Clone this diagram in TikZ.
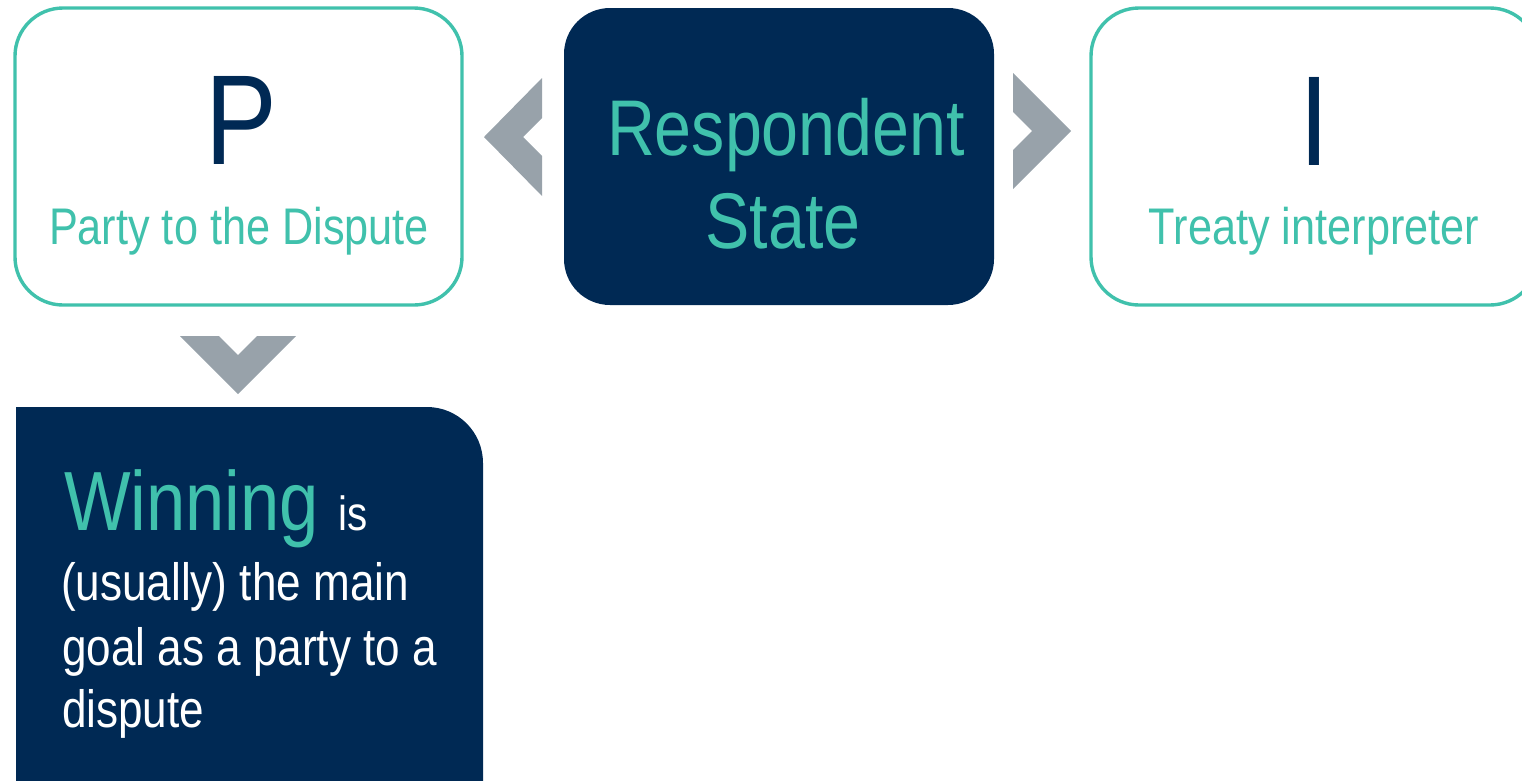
\documentclass[tikz,border=0pt]{standalone}
\usepackage{fontspec}
\setmainfont{Liberation Sans}[FakeStretch=0.84]
\definecolor{navyc}{RGB}{0,41,84}
\definecolor{tealc}{RGB}{64,193,172}
\definecolor{chevc}{RGB}{152,162,170}
\newcommand{\fsz}[1]{\fontsize{#1}{#1}\selectfont}
\begin{document}
\begin{tikzpicture}[x=1pt,y=-1pt,
  outlinebox/.style={draw=tealc, line width=3.4pt, fill=white, rounded corners=48pt,
    minimum width=447pt, minimum height=297pt, inner sep=0pt},
  darkbox/.style={fill=navyc, rounded corners=46pt,
    minimum width=430pt, minimum height=297pt, inner sep=0pt},
  chevron/.style={fill=chevc},
  txt/.style={inner sep=0pt, outer sep=0pt}]
\useasboundingbox (0,0) rectangle (1522,780);
\clip (0,0) rectangle (1522,780);
% boxes
\node[outlinebox] (P) at (238.5,156.5) {};
\node[darkbox] (R) at (779,156.5) {};
\node[outlinebox] (I) at (1314.5,156.5) {};
\fill[navyc] (16,790) -- (16,407) -- (427,407) arc[start angle=-90,end angle=0,radius=56] -- (483,790) -- cycle;
\coordinate (W) at (16,407);
% chevrons
\fill[chevron] (484,137) -- (542,78) -- (542,118) -- (523,137) -- (542,156) -- (542,196) -- cycle;
\fill[chevron] (1071,131) -- (1013,73) -- (1013,112) -- (1032,131) -- (1013,150) -- (1013,189) -- cycle;
\fill[chevron] (180,336) -- (219,336) -- (238,355) -- (257,336) -- (296,336) -- (238,394) -- cycle;
% texts
\node[txt, anchor=base, text=navyc, font=\fsz{128}] (Pl) at (241,164.3) {P};
\node[txt, anchor=base, text=tealc, font=\fsz{51.5}] (Pt) at (239,244.3) {Party to the Dispute};
\node[txt, anchor=base, text=tealc, font=\fsz{79}] (R1) at (786,155) {Respondent};
\node[txt, anchor=base, text=tealc, font=\fsz{79}] (R2) at (783,248) {State};
\node[txt, anchor=base, text=navyc, font=\fsz{128}] (Il) at (1314,165) {I};
\node[txt, anchor=base, text=tealc, font=\fsz{51.5}] (It) at (1314,244) {Treaty interpreter};
\node[txt, anchor=base west, text=white] (W1) at (64,530) {{\fsz{84}\color{tealc}Winning }{\fsz{48}is}};
\node[txt, anchor=base west, text=white, font=\fsz{52.5}] (W2) at (61,600) {(usually) the main};
\node[txt, anchor=base west, text=white, font=\fsz{52.5}] (W3) at (62,665) {goal as a party to a};
\node[txt, anchor=base west, text=white, font=\fsz{52.5}] (W4) at (62,727) {dispute};
\end{tikzpicture}
\end{document}
